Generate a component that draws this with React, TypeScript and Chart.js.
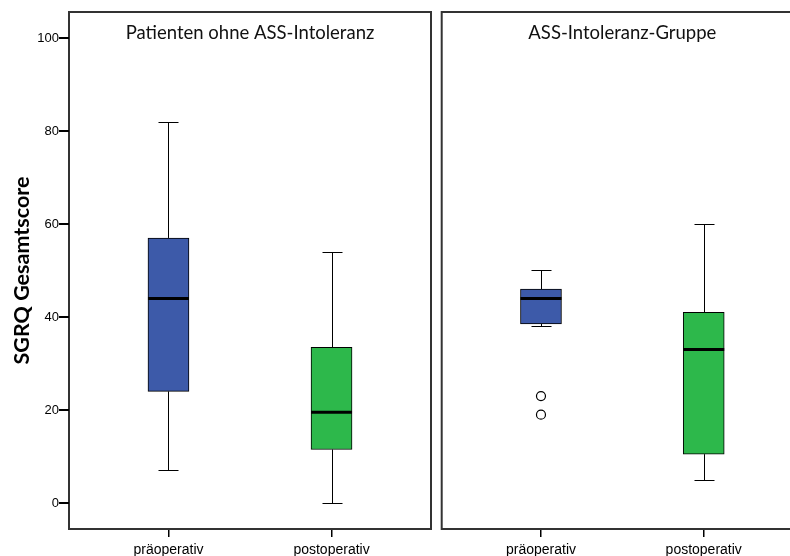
import React, { useEffect, useRef } from "react";
import { Chart, registerables } from "chart.js";

Chart.register(...registerables);

const categories = ["präoperativ", "postoperativ"];
const yTicks = [0, 20, 40, 60, 80, 100];
const panelTitles = ["Patienten ohne ASS-Intoleranz", "ASS-Intoleranz-Gruppe"];
const yTitle = "SGRQ Gesamtscore";

// [whiskerLow, q1, median, q3, whiskerHigh]
const leftStats = [
  [7, 24, 44, 57, 82],
  [0, 11.5, 19.5, 33.5, 54],
];
const rightStats = [
  [38, 38.5, 44, 46, 50],
  [5, 10.5, 33, 41, 60],
];
const leftOutliers: number[][] = [[], []];
const rightOutliers: number[][] = [[23, 19], []];

const boxColors = ["#3D5AA9", "#2DB84B"];

const boxPlugin = {
  id: "boxExtras",
  beforeDatasetsDraw(chart: any) {
    const stats = chart.options.plugins.boxExtras.stats as number[][];
    const { ctx } = chart;
    const xs = chart.scales.x;
    const ys = chart.scales.y;
    ctx.save();
    ctx.strokeStyle = "#000";
    ctx.lineWidth = 1;
    stats.forEach((s, i) => {
      const x = Math.round(xs.getPixelForValue(i + 1)) + 0.5;
      const half = 10;
      const yl = Math.round(ys.getPixelForValue(s[0])) + 0.5;
      const yq1 = ys.getPixelForValue(s[1]);
      const yq3 = ys.getPixelForValue(s[3]);
      const yh = Math.round(ys.getPixelForValue(s[4])) + 0.5;
      ctx.beginPath();
      ctx.moveTo(x, yl);
      ctx.lineTo(x, yq1);
      ctx.moveTo(x, yq3);
      ctx.lineTo(x, yh);
      ctx.moveTo(x - half, yl);
      ctx.lineTo(x + half, yl);
      ctx.moveTo(x - half, yh);
      ctx.lineTo(x + half, yh);
      ctx.stroke();
    });
    ctx.restore();
  },
  afterDatasetsDraw(chart: any) {
    const opts = chart.options.plugins.boxExtras;
    const stats = opts.stats as number[][];
    const { ctx, chartArea } = chart;
    const xs = chart.scales.x;
    const ys = chart.scales.y;
    ctx.save();
    ctx.strokeStyle = "#000";
    ctx.lineWidth = 3;
    stats.forEach((s, i) => {
      const x = xs.getPixelForValue(i + 1);
      const y = ys.getPixelForValue(s[2]);
      ctx.beginPath();
      ctx.moveTo(x - 20.5, y);
      ctx.lineTo(x + 20.5, y);
      ctx.stroke();
    });
    // panel border
    ctx.strokeStyle = "#333";
    ctx.lineWidth = 2;
    ctx.strokeRect(
      chartArea.left,
      chartArea.top,
      chartArea.right - chartArea.left,
      chartArea.bottom - chartArea.top
    );
    // panel title
    ctx.fillStyle = "#111";
    ctx.font = "18.5px Lato";
    ctx.textAlign = "center";
    ctx.textBaseline = "alphabetic";
    ctx.fillText(opts.title, (chartArea.left + chartArea.right) / 2, 39);
    ctx.restore();
  },
  afterDraw(chart: any) {
    const opts = chart.options.plugins.boxExtras;
    if (!opts.showY) return;
    const { ctx, chartArea } = chart;
    const ys = chart.scales.y;
    ctx.save();
    ctx.strokeStyle = "#000";
    ctx.lineWidth = 2;
    ctx.beginPath();
    yTicks.forEach((v) => {
      const y = Math.round(ys.getPixelForValue(v));
      ctx.moveTo(chartArea.left - 10, y);
      ctx.lineTo(chartArea.left, y);
    });
    ctx.stroke();
    ctx.restore();
  },
};

function makeConfig(stats: number[][], outliers: number[][], title: string, showY: boolean, padLeft: number, padRight: number) {
  const boxData = stats.map((s, i) => ({ x: i + 1, y: [s[1], s[3]] }));
  const outData: { x: number; y: number }[] = [];
  outliers.forEach((arr, i) => arr.forEach((v) => outData.push({ x: i + 1, y: v })));
  return {
    type: "bar",
    data: {
      datasets: [
        {
          type: "bar",
          data: boxData,
          backgroundColor: boxColors,
          borderColor: "#000",
          borderWidth: 1,
          borderSkipped: false,
          barThickness: 41,
        },
        {
          type: "scatter",
          data: outData,
          pointStyle: "circle",
          pointRadius: 4.5,
          backgroundColor: "#fff",
          borderColor: "#000",
          borderWidth: 1.2,
        },
      ],
    },
    options: {
      animation: false,
      responsive: false,
      maintainAspectRatio: false,
      layout: { padding: { left: padLeft, right: padRight, top: 12, bottom: 0 } },
      plugins: {
        legend: { display: false },
        tooltip: { enabled: false },
        boxExtras: { stats, title, showY },
      },
      scales: {
        x: {
          type: "linear",
          min: 0.39,
          max: 2.61,
          offset: false,
          afterBuildTicks: (scale: any) => {
            scale.ticks = categories.map((_, i) => ({ value: i + 1 }));
          },
          afterFit: (scale: any) => {
            scale.height = 27;
          },
          grid: { offset: false, drawOnChartArea: false, drawTicks: true, tickLength: 8, color: "#000", lineWidth: 1.5 },
          border: { display: false },
          ticks: {
            autoSkip: false,
            maxRotation: 0,
            padding: 5,
            color: "#000",
            font: { family: "'Liberation Sans', Arial", size: 14 },
            callback: (v: number) => categories[Math.round(v) - 1] ?? "",
          },
        },
        y: {
          type: "linear",
          display: showY,
          min: -5.6,
          max: 105.6,
          afterBuildTicks: (scale: any) => {
            scale.ticks = yTicks.map((v) => ({ value: v }));
          },
          afterFit: (scale: any) => {
            if (showY) scale.width = 69;
          },
          grid: { drawOnChartArea: false, drawTicks: true, tickLength: 10, color: "#000", tickColor: "#000", lineWidth: 2 },
          border: { display: false },
          ticks: {
            padding: 0,
            color: "#000",
            font: { family: "'Liberation Sans', Arial", size: 13 },
          },
          title: {
            display: showY,
            text: yTitle,
            color: "#000",
            font: { family: "Lato", size: 21.5, weight: "bold" },
            padding: { top: 9, bottom: 0 },
          },
        },
      },
    },
    plugins: [boxPlugin],
  } as any;
}

function Panel(props: { stats: number[][]; outliers: number[][]; title: string; showY: boolean; left: number; width: number; padLeft: number; padRight: number }) {
  const ref = useRef<HTMLCanvasElement>(null);
  useEffect(() => {
    if (!ref.current) return;
    const chart = new Chart(ref.current, makeConfig(props.stats, props.outliers, props.title, props.showY, props.padLeft, props.padRight));
    return () => chart.destroy();
  }, []);
  return (
    <canvas
      ref={ref}
      width={props.width}
      height={556}
      style={{ position: "absolute", left: props.left, top: 0, width: props.width, height: 556 }}
    />
  );
}

export default function App() {
  return (
    <div style={{ position: "fixed", left: 0, top: 0, width: 790, height: 556, overflow: "hidden", background: "#fff" }}>
      <Panel stats={leftStats} outliers={leftOutliers} title={panelTitles[0]} showY={true} left={0} width={436} padLeft={0} padRight={5} />
      <Panel stats={rightStats} outliers={rightOutliers} title={panelTitles[1]} showY={false} left={436} width={380} padLeft={5} padRight={13} />
    </div>
  );
}
